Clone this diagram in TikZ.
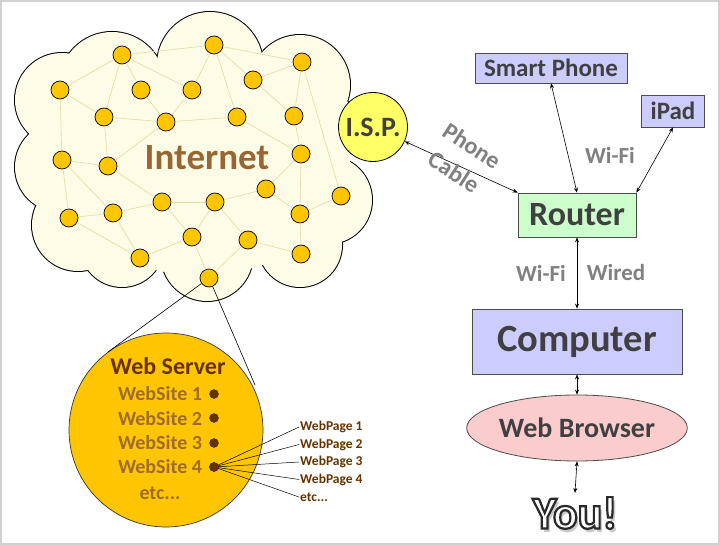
\documentclass[tikz,border=0pt]{standalone}
\usepackage{fontspec}
\setmainfont{Carlito}
\usetikzlibrary{arrows.meta,calc,shapes.geometric}
\definecolor{cloudfill}{RGB}{253,252,230}
\definecolor{nodefill}{RGB}{255,198,0}
\definecolor{edgecol}{RGB}{226,220,165}
\definecolor{inetcol}{RGB}{153,102,51}
\definecolor{ispfill}{RGB}{255,255,102}
\definecolor{boxtext}{RGB}{64,64,64}
\definecolor{lavender}{RGB}{204,204,255}
\definecolor{mint}{RGB}{204,255,204}
\definecolor{pinkish}{RGB}{250,204,204}
\definecolor{labelgray}{RGB}{128,128,128}
\definecolor{darkbrown}{RGB}{102,51,0}
\definecolor{sitecol}{RGB}{158,108,42}
\newcommand{\myfs}[1]{\fontsize{#1}{#1}\selectfont\bfseries}
\newcommand{\outlinetext}[1]{\textcolor{white}{\special{pdf:literal direct 2 Tr 2.2 w 0.16 0.16 0.16 RG}#1}\special{pdf:literal direct 0 Tr}}
\tikzset{
  netnode/.style={circle, draw=black, line width=0.7pt, fill=nodefill, minimum size=18pt, inner sep=0pt},
  netedge/.style={draw=edgecol, line width=0.6pt},
  devbox/.style={rectangle, draw=black!70, line width=0.8pt, text=boxtext, inner sep=0pt},
  biarrow/.style={draw=black, line width=0.6pt, {Stealth[length=5pt,width=4pt]}-{Stealth[length=5pt,width=4pt]}},
  graylabel/.style={text=labelgray, font=\myfs{23}, inner sep=0pt},
  sitelabel/.style={text=sitecol, font=\myfs{20}, inner sep=0pt},
  pagelabel/.style={text=darkbrown, font=\myfs{13.5}, inner sep=0pt, anchor=west},
  sitedot/.style={circle, fill=darkbrown, draw=black!80, line width=0.4pt, minimum size=9pt, inner sep=0pt},
  youtext/.style={font=\myfs{46}, inner sep=0pt}
}
\begin{document}
\begin{tikzpicture}[x=1pt,y=-1pt]
\useasboundingbox (0,0) rectangle (720,545);
\fill[white] (0,0) rectangle (720,545);
\draw[black!18, line width=2pt] (1,1) rectangle (719,544);

% cloud outline (union of circles)
\foreach \x/\y/\r in {112/85/53, 210/65/53, 300/85/50, 62/100/47, 60/167/45, 78/225/46, 122/245/42, 207/255/46, 300/245/42, 328/200/44, 315/125/40}
  \draw[black, line width=2pt] (\x,\y) circle[radius=\r pt];
\foreach \x/\y/\r in {112/85/53, 210/65/53, 300/85/50, 62/100/47, 60/167/45, 78/225/46, 122/245/42, 207/255/46, 300/245/42, 328/200/44, 315/125/40}
  \fill[cloudfill] (\x,\y) circle[radius=\r pt];
\fill[cloudfill] (200,165) ellipse[x radius=150pt, y radius=110pt];

% network nodes
\foreach \i/\x/\y in {1/122/55, 2/214/45, 3/302/62, 4/60/90, 5/141/90, 6/192/90, 7/253/80, 8/104/117, 9/166/122, 10/237/117, 11/294/116, 12/62/160, 13/108/166, 14/301/154, 15/266/189, 16/341/196, 17/162/202, 18/215/202, 19/113/213, 20/69/218, 21/300/214, 22/192/237, 23/248/240, 24/140/258, 25/301/254, 26/209/278}
  \node[netnode] (n\i) at (\x,\y) {};
\foreach \a/\b in {1/2, 2/3, 1/4, 1/8, 1/5, 1/6, 2/6, 2/7, 2/10, 7/3, 7/11, 3/11, 3/16, 4/8, 4/12, 5/9, 6/9, 8/9, 8/13, 9/10, 9/13, 10/14, 11/14, 12/13, 12/20, 12/19, 13/17, 17/18, 17/22, 19/17, 19/20, 19/24, 20/24, 24/22, 22/26, 22/18, 14/15, 14/21, 15/18, 15/21, 21/16, 21/25, 18/23, 23/25, 23/26}
  \draw[netedge] (n\a) -- (n\b);

\node[text=inetcol, font=\myfs{37}, inner sep=0pt] (inet) at (207,158) {Internet};

% ISP
\node[circle, draw=black, line width=0.8pt, fill=ispfill, minimum size=69pt, inner sep=0pt, text=boxtext, font=\myfs{28}] (isp) at (373,127) {I.S.P.};

% devices
\node[devbox, fill=lavender, minimum width=152pt, minimum height=30pt, font=\myfs{25}] (sp) at (551,68) {Smart Phone};
\node[devbox, fill=lavender, minimum width=63pt, minimum height=32pt, font=\myfs{25}] (ipad) at (673,111) {iPad};
\node[devbox, fill=mint, minimum width=118pt, minimum height=44pt, font=\myfs{34}] (router) at (577,215) {Router};
\node[devbox, fill=lavender, minimum width=210pt, minimum height=65pt, font=\myfs{38.5}] (comp) at (577,341.5) {Computer};
\node[ellipse, draw=black!70, line width=0.8pt, fill=pinkish, minimum width=200pt, minimum height=66pt, inner sep=0pt, text=boxtext, font=\myfs{28}] (wb) at (577,428) {Web Browser};

% You! (outlined text with a soft shadow)
\coordinate (youc) at (575,513);
\node[youtext, text=black!35, opacity=0.6] (youshadow) at ($(youc)+(3,3.5)$) {You!};
\node[youtext] (you) at (youc) {\outlinetext{You!}};

% arrows
\draw[biarrow] (isp) -- (router.north west);
\draw[biarrow] (sp.south) -- (router.north);
\draw[biarrow] (ipad.south) -- (router.north east);
\draw[biarrow] (router.south) -- (comp.north);
\draw[biarrow] (comp.south) -- (wb.north);
\draw[biarrow] (wb.south) -- ([yshift=4pt]you.north);

% labels
\node[graylabel, font=\myfs{24}, rotate=-33] (lphone) at (472,146) {Phone};
\node[graylabel, font=\myfs{24}, rotate=-33] (lcable) at (454,172) {Cable};
\node[graylabel] (lwifi1) at (610,155) {Wi-Fi};
\node[graylabel] (lwifi2) at (541,273) {Wi-Fi};
\node[graylabel] (lwired) at (616,273) {Wired};

% web server
\coordinate (tl) at (108,352);
\coordinate (tr) at (255,385);
\node[circle, draw=black!80, line width=0.7pt, fill=nodefill, minimum size=194pt, inner sep=0pt] (ws) at (166,430) {};
\draw[black, line width=0.6pt] (n26) -- (tl);
\draw[black, line width=0.6pt] (n26) -- (tr);
\node[text=darkbrown, font=\myfs{24}, inner sep=0pt] (wstitle) at (168,366) {Web Server};
\node[sitelabel] (s1) at (160,394) {WebSite 1};
\node[sitelabel] (s2) at (160,419) {WebSite 2};
\node[sitelabel] (s3) at (160,443) {WebSite 3};
\node[sitelabel] (s4) at (160,467) {WebSite 4};
\node[sitelabel] (s5) at (160,493) {etc...};
\node[sitedot] (d1) at (214,394) {};
\node[sitedot] (d2) at (214,418) {};
\node[sitedot] (d3) at (214,443) {};
\node[sitedot] (d4) at (214,467) {};

\node[pagelabel] (p1) at (300,427) {WebPage 1};
\node[pagelabel] (p2) at (300,444.5) {WebPage 2};
\node[pagelabel] (p3) at (300,462) {WebPage 3};
\node[pagelabel] (p4) at (300,479.5) {WebPage 4};
\node[pagelabel] (p5) at (300,497) {etc...};
\foreach \k in {1,...,5}
  \draw[black, line width=0.5pt] (d4.center) -- ([xshift=-1pt]p\k.west);
\node[sitedot] at (d4) {};
\end{tikzpicture}
\end{document}
